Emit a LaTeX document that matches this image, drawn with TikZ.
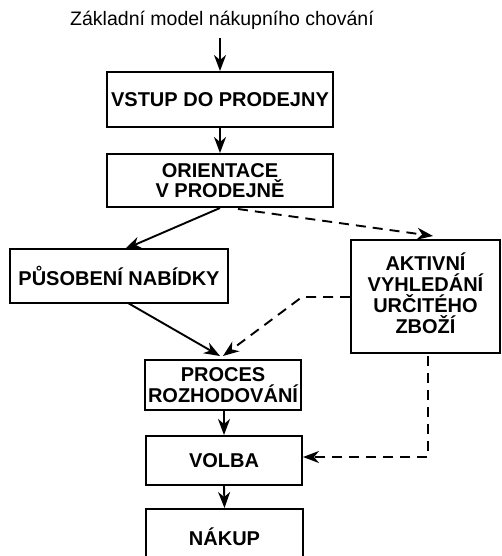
\documentclass[tikz,border=0pt]{standalone}
\usepackage{fontspec}
\setmainfont{Liberation Sans}
\usetikzlibrary{arrows.meta}
\begin{document}
\begin{tikzpicture}[x=1pt,y=-1pt,
  box/.style={draw,line width=2pt,inner sep=0pt,align=center,
    font=\fontsize{20}{20.5}\selectfont\bfseries},
  arr/.style={line width=1.9pt,-{Stealth[length=16pt,width=12pt,inset=5pt]}},
  darr/.style={arr,dash pattern=on 10pt off 7pt}]
\useasboundingbox (0,0) rectangle (501,556);
\node[font=\fontsize{19.5}{20}\selectfont] (title) at (222,20) {Základní model nákupního chování};
\node[box,minimum width=226,minimum height=55] (vstup) at (220,99.5) {VSTUP DO PRODEJNY};
\node[box,minimum width=226,minimum height=53] (orient) at (220,180.5) {ORIENTACE\\V PRODEJNĚ};
\node[box,minimum width=218,minimum height=54] (pusob) at (119,276) {PŮSOBENÍ NABÍDKY};
\node[box,minimum width=149,minimum height=113] (aktiv) at (425.5,296.5) {\raisebox{4pt}{\begin{tabular}{@{}c@{}}AKTIVNÍ\\[-3pt]VYHLEDÁNÍ\\[-3pt]URČITÉHO\\[-3pt]ZBOŽÍ\end{tabular}}};
\node[box,minimum width=156,minimum height=50] (proces) at (223,385) {PROCES\\ROZHODOVÁNÍ};
\node[box,minimum width=156,minimum height=49] (volba) at (224,460.5) {VOLBA};
\node[box,minimum width=157,minimum height=60] (nakup) at (224.5,539) {\raisebox{4pt}{NÁKUP}};
\coordinate (t1) at (220,38);
\coordinate (k1) at (302,297);
\coordinate (k2) at (428,457);
\draw[arr] (t1) -- (vstup.north);
\draw[arr] (vstup.south) -- (orient.north);
\draw[arr] (orient.south) -- (125,249);
\draw[darr] (238,209) -- (433,236);
\draw[arr] (128,303) -- (220,356);
\draw[darr] (aktiv.west |- k1) -- (k1) -- (223,356);
\draw[darr] (428,356) -- (k2) -- (volba.east |- k2);
\draw[arr] (proces.south -| 224,0) -- (volba.north);
\draw[arr] (volba.south) -- (nakup.north);
\end{tikzpicture}
\end{document}
